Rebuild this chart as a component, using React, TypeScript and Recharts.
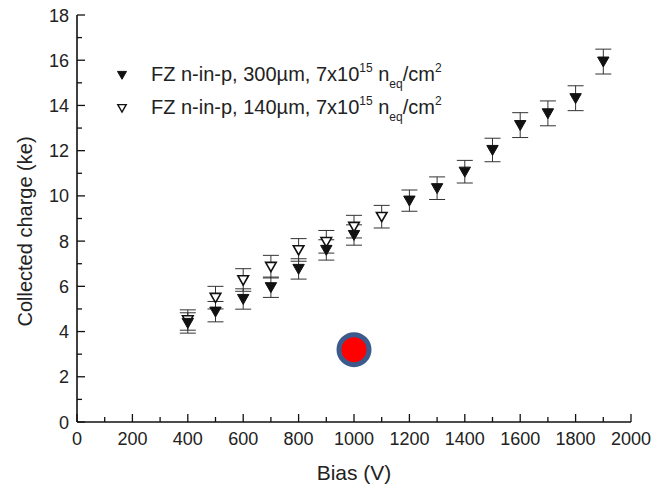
import React from "react";
import { ScatterChart, Scatter, XAxis, YAxis, ErrorBar, Legend } from "recharts";

// FZ n-in-p, 300um (filled markers)
const bias300 = [400, 500, 600, 700, 800, 900, 1000, 1200, 1300, 1400, 1500, 1600, 1700, 1800, 1900];
const charge300 = [4.38, 4.88, 5.44, 5.96, 6.77, 7.61, 8.27, 9.79, 10.34, 11.07, 12.03, 13.13, 13.65, 14.32, 15.94];
const err300 = [0.45, 0.45, 0.45, 0.45, 0.45, 0.45, 0.45, 0.47, 0.5, 0.5, 0.52, 0.55, 0.55, 0.55, 0.55];

// FZ n-in-p, 140um (open markers)
const bias140 = [400, 500, 600, 700, 800, 900, 1000, 1100];
const charge140 = [4.51, 5.5, 6.28, 6.87, 7.61, 7.97, 8.64, 9.08];
const err140 = [0.45, 0.5, 0.5, 0.5, 0.5, 0.5, 0.5, 0.5];

// the red dot
const dotBias = [1000];
const dotCharge = [3.2];

const xTicks = [0, 100, 200, 300, 400, 500, 600, 700, 800, 900, 1000, 1100, 1200, 1300, 1400, 1500, 1600, 1700, 1800, 1900, 2000];
const yTicks = [0, 1, 2, 3, 4, 5, 6, 7, 8, 9, 10, 11, 12, 13, 14, 15, 16, 17, 18];

const FONT = '"Liberation Sans", Arial, sans-serif';
const TEXT = "#222";
const AXIS = "#111";

const rows300 = bias300.map((b, i) => ({ bias: b, charge: charge300[i], err: err300[i] }));
const rows140 = bias140.map((b, i) => ({ bias: b, charge: charge140[i], err: err140[i] }));
const rowsDot = dotBias.map((b, i) => ({ bias: b, charge: dotCharge[i] }));

const triPath = (cx: number, cy: number, s: number) =>
  `M${cx - s},${cy - s * 0.8} L${cx + s},${cy - s * 0.8} L${cx},${cy + s * 0.95} Z`;

const FilledTri = (p: any) => <path d={triPath(p.cx, p.cy, 5.7)} fill="#111" stroke="#111" strokeWidth={1} />;
const OpenTri = (p: any) => <path d={triPath(p.cx, p.cy, 5.3)} fill="#fff" stroke="#111" strokeWidth={1.6} />;
const RedDot = (p: any) => <circle cx={p.cx} cy={p.cy} r={15} fill="#ff0000" stroke="#3c5b8c" strokeWidth={5} />;

const BottomTick = (p: any) => {
  const major = p.payload.value % 200 === 0;
  return (
    <g>
      <line x1={p.x} x2={p.x} y1={p.y} y2={p.y - (major ? 8 : 5)} stroke={AXIS} strokeWidth={1.3} />
      {major && (
        <text x={p.x} y={p.y + 22.5} textAnchor="middle" fontSize={18} fontFamily={FONT} fill={TEXT}>
          {p.payload.value}
        </text>
      )}
    </g>
  );
};

const TopTick = (p: any) => {
  const major = p.payload.value % 200 === 0;
  return <line x1={p.x} x2={p.x} y1={p.y} y2={p.y + (major ? 8 : 5)} stroke={AXIS} strokeWidth={1.3} />;
};

const LeftTick = (p: any) => {
  const major = p.payload.value % 2 === 0;
  return (
    <g>
      <line x1={p.x} x2={p.x + (major ? 8 : 5)} y1={p.y} y2={p.y} stroke={AXIS} strokeWidth={1.3} />
      {major && (
        <text x={p.x - 8} y={p.y + 6.5} textAnchor="end" fontSize={18} fontFamily={FONT} fill={TEXT}>
          {p.payload.value}
        </text>
      )}
    </g>
  );
};

const RightTick = (p: any) => {
  const major = p.payload.value % 2 === 0;
  return <line x1={p.x} x2={p.x - (major ? 8 : 5)} y1={p.y} y2={p.y} stroke={AXIS} strokeWidth={1.3} />;
};

const XTitle = ({ viewBox }: any) => (
  <text x={viewBox.x + viewBox.width / 2} y={viewBox.y + 58} textAnchor="middle" fontSize={21} fontFamily={FONT} fill={TEXT}>
    Bias (V)
  </text>
);

const YTitle = ({ viewBox }: any) => {
  const cx = viewBox.x + 25;
  const cy = viewBox.y + viewBox.height / 2 + 13;
  return (
    <text x={cx} y={cy} transform={`rotate(-90 ${cx} ${cy})`} textAnchor="middle" dominantBaseline="central" fontSize={20} fontFamily={FONT} fill={TEXT}>
      Collected charge (ke)
    </text>
  );
};

const legendItems = [
  { thickness: "300µm", filled: true },
  { thickness: "140µm", filled: false },
];

const small = { fontSize: 12 };

const LegendBox = () => (
  <div style={{ fontFamily: FONT, fontSize: 20, color: TEXT, whiteSpace: "nowrap" }}>
    {legendItems.map((item) => (
      <div key={item.thickness} style={{ display: "flex", alignItems: "center", height: 33 }}>
        <svg width={24} height={16}>
          <path
            d={triPath(12, 8, item.filled ? 4.5 : 4.2)}
            fill={item.filled ? "#111" : "#fff"}
            stroke="#111"
            strokeWidth={item.filled ? 1 : 1.4}
          />
        </svg>
        <span style={{ marginLeft: 17 }}>
          FZ n-in-p, {item.thickness}, 7x10
          <span style={{ ...small, position: "relative", top: -9 }}>15</span> n
          <span style={{ ...small, position: "relative", top: 7 }}>eq</span>/cm
          <span style={{ ...small, position: "relative", top: -9 }}>2</span>
        </span>
      </div>
    ))}
  </div>
);

export default function App() {
  return (
    <div style={{ position: "absolute", left: 0, top: 0, width: 655, height: 488, background: "#fff" }}>
      <ScatterChart width={655} height={488} margin={{ top: 15, right: 24, bottom: 0, left: 0 }}>
        <XAxis
          dataKey="bias"
          type="number"
          domain={[0, 2000]}
          allowDataOverflow
          ticks={xTicks}
          interval={0}
          height={66}
          tickSize={0}
          tickMargin={0}
          tickLine={false}
          tick={<BottomTick />}
          axisLine={{ stroke: AXIS, strokeWidth: 1.6 }}
          label={<XTitle />}
        />
        <XAxis
          xAxisId="top"
          orientation="top"
          type="number"
          domain={[0, 2000]}
          allowDataOverflow
          ticks={xTicks}
          interval={0}
          height={0}
          tickSize={0}
          tickMargin={0}
          tickLine={false}
          tick={<TopTick />}
          axisLine={{ stroke: AXIS, strokeWidth: 1.6 }}
        />
        <YAxis
          dataKey="charge"
          type="number"
          domain={[0, 18]}
          allowDataOverflow
          ticks={yTicks}
          interval={0}
          width={77}
          tickSize={0}
          tickMargin={0}
          tickLine={false}
          tick={<LeftTick />}
          axisLine={{ stroke: AXIS, strokeWidth: 1.6 }}
          label={<YTitle />}
        />
        <YAxis
          yAxisId="right"
          orientation="right"
          type="number"
          domain={[0, 18]}
          allowDataOverflow
          ticks={yTicks}
          interval={0}
          width={0}
          tickSize={0}
          tickMargin={0}
          tickLine={false}
          tick={<RightTick />}
          axisLine={{ stroke: AXIS, strokeWidth: 1.6 }}
        />
        <Legend
          layout="vertical"
          align="center"
          verticalAlign="middle"
          content={<LegendBox />}
          wrapperStyle={{ position: "absolute", left: 110, top: 58, width: 440 }}
        />
        <Scatter name="FZ n-in-p, 140µm" data={rows140} shape={OpenTri} isAnimationActive={false}>
          <ErrorBar dataKey="err" direction="y" width={8} stroke="#333" strokeWidth={1} />
        </Scatter>
        <Scatter name="FZ n-in-p, 300µm" data={rows300} shape={FilledTri} isAnimationActive={false}>
          <ErrorBar dataKey="err" direction="y" width={8} stroke="#333" strokeWidth={1} />
        </Scatter>
        <Scatter name="marker" data={rowsDot} shape={RedDot} legendType="none" isAnimationActive={false} />
      </ScatterChart>
    </div>
  );
}
